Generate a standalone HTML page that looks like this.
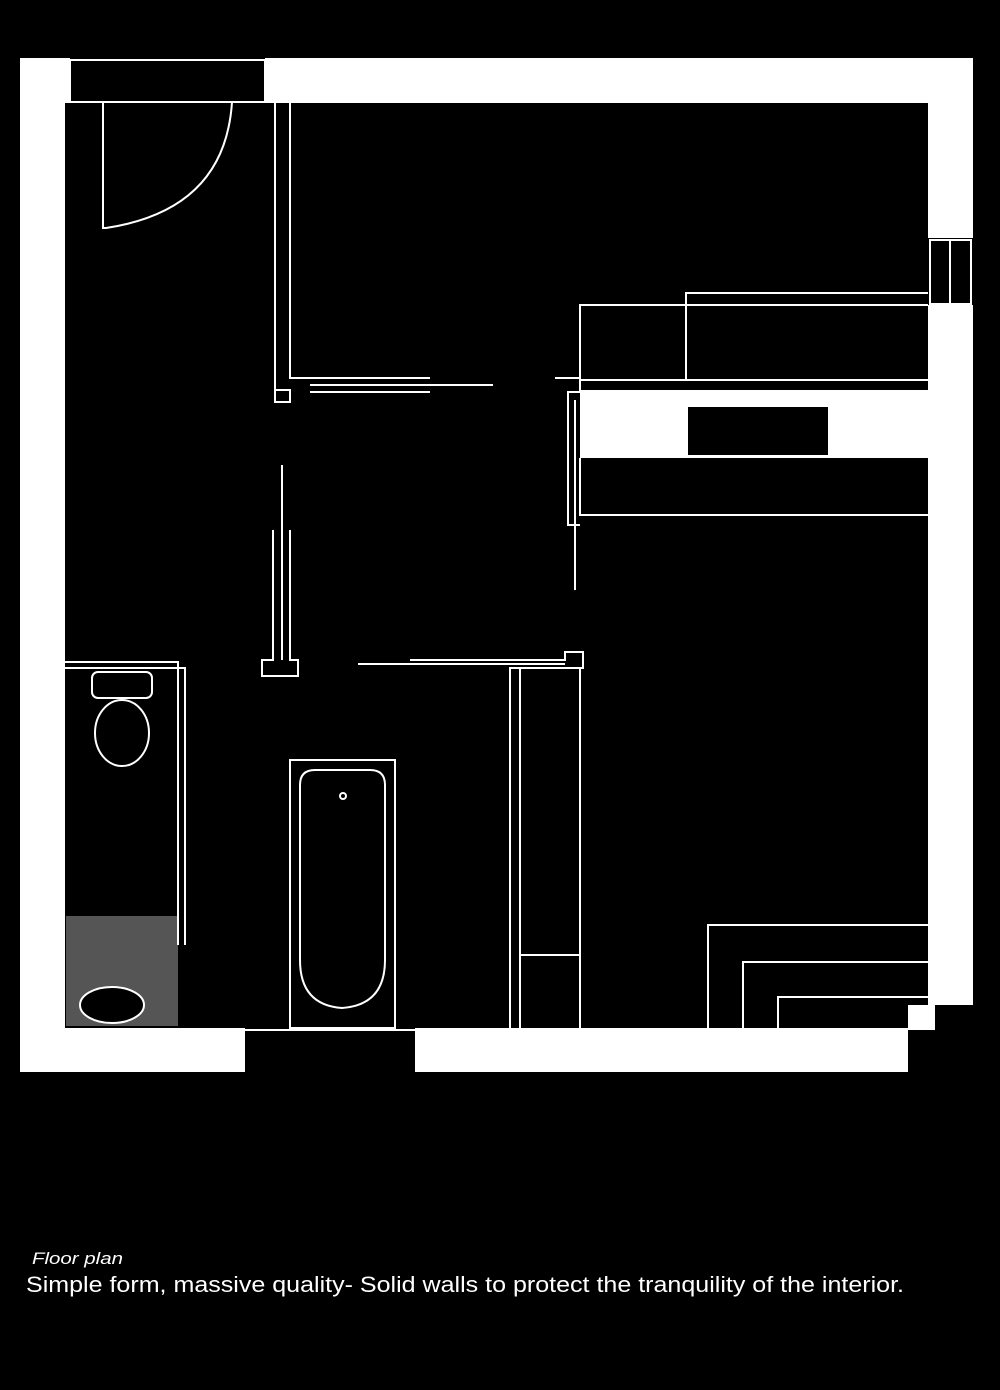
<!DOCTYPE html>
<html><head><meta charset="utf-8"><style>
html,body{margin:0;padding:0;background:#000;}
body{width:1000px;height:1390px;position:relative;overflow:hidden;}
</style></head><body>
<svg width="1000" height="1390" style="position:absolute;left:0;top:0">
<g fill="#fff">
<rect x="20" y="58" width="45" height="1014"/>
<rect x="265" y="58" width="708" height="45"/>
<rect x="20" y="58" width="50" height="45"/>
<rect x="928" y="58" width="45" height="180"/>
<rect x="928" y="305" width="45" height="700"/>
<rect x="20" y="1028" width="225" height="44"/>
<rect x="415" y="1028" width="493" height="44"/>
<rect x="908" y="1005" width="27" height="25"/>
<rect x="580" y="390" width="348" height="68"/>
</g>
<rect x="688" y="407" width="140" height="48" fill="#000"/>
<rect x="66" y="916" width="112" height="110" fill="#555"/>
<g fill="none" stroke="#fff" stroke-width="2">
<rect x="70" y="60" width="195" height="42"/>
<rect x="930" y="240" width="41" height="64"/>
<line x1="950" y1="240" x2="950" y2="304"/>
<path d="M103 102 V228 H106 Q225 210 232 102"/>
<path d="M275 102 V390 H290 V402 H275 V390"/>
<path d="M290 102 V378 H430"/>
<line x1="310" y1="385" x2="493" y2="385"/>
<line x1="310" y1="392" x2="430" y2="392"/>
<path d="M555 378 H580 V392 H568 V525 H580"/>
<line x1="575" y1="400" x2="575" y2="590"/>
<path d="M580 380 V305 H928"/>
<path d="M686 380 V293 H928"/>
<line x1="580" y1="380" x2="928" y2="380"/>
<path d="M580 458 V515 H928"/>
<line x1="282" y1="465" x2="282" y2="660"/>
<path d="M273 530 V660 H262 V676 H298 V660 H290 V530"/>
<path d="M65 662 H178 V945"/>
<path d="M65 668 H185 V945"/>
<line x1="358" y1="664" x2="565" y2="664"/>
<path d="M410 660 H565 V652 H583 V668 H510 V1028"/>
<path d="M520 668 V1028 M580 668 V1028 M520 955 H580"/>
<rect x="290" y="760" width="105" height="268"/>
<path d="M300 960 V785 Q300 770 315 770 H370 Q385 770 385 785 V960 Q385 1005 342 1008 Q300 1005 300 960 Z"/>
<circle cx="343" cy="796" r="3"/>
<rect x="92" y="672" width="60" height="26" rx="6"/>
<ellipse cx="122" cy="733" rx="27" ry="33"/>
<path d="M708 1028 V925 H928 M743 1028 V962 H928 M778 1028 V997 H928"/>
<path d="M245 1030 H415"/>
</g>
<ellipse cx="112" cy="1005" rx="32" ry="18" fill="#000" stroke="#fff" stroke-width="2"/>
<text x="32" y="1264" fill="#fff" font-family="Liberation Sans, sans-serif" font-style="italic" font-size="17" textLength="91" lengthAdjust="spacingAndGlyphs">Floor plan</text>
<text x="26" y="1292" fill="#fff" font-family="Liberation Sans, sans-serif" font-size="22" textLength="878" lengthAdjust="spacingAndGlyphs">Simple form, massive quality- Solid walls to protect the tranquility of the interior.</text>
</svg>
</body></html>
